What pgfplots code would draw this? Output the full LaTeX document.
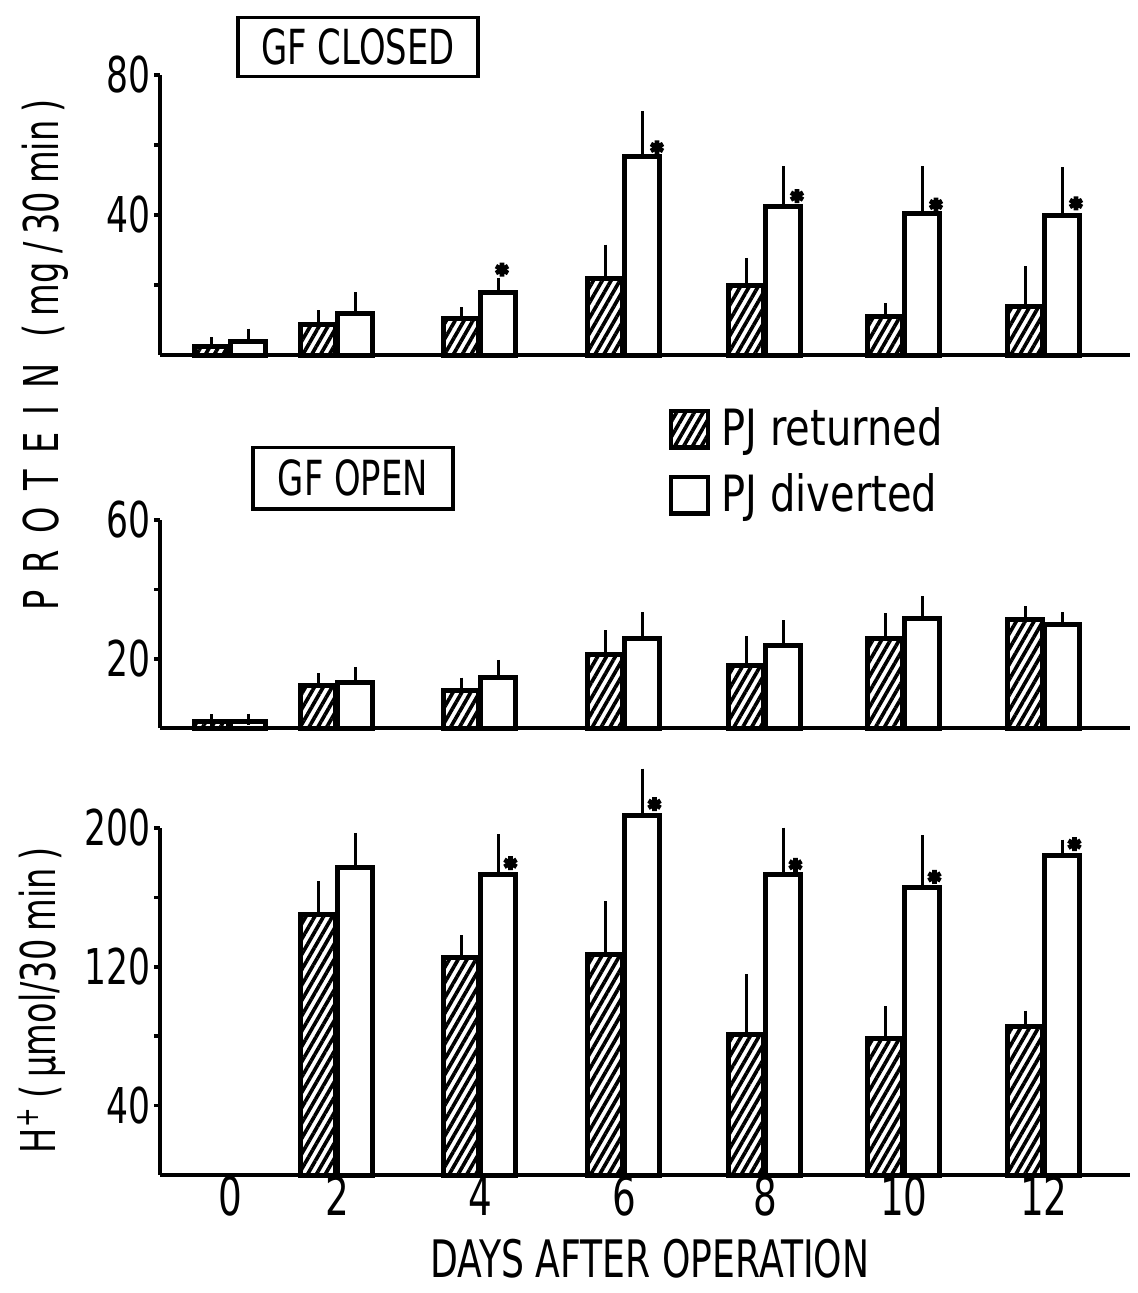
\documentclass[border=0pt]{standalone}
\usepackage{fontspec}
\setmainfont{DejaVu Sans}[FakeStretch=0.7]
\newfontfamily\legfont{DejaVu Sans}[FakeStretch=0.8]
\usepackage{pgfplots}
\pgfplotsset{compat=1.18}
\usetikzlibrary{patterns.meta}

\pgfplotsset{
  panel/.style={
    scale only axis, width=291pt,
    xmin=1.6, xmax=11.3, ymin=0,
    axis x line=bottom, axis y line=left,
    axis line style={line width=1.3pt,-},
    clip=false,
    tick align=outside,
    major tick length=1.8pt,
    every tick/.style={line width=1.1pt, black},
    x tick style={draw=none},
    yticklabel style={inner sep=0.8pt, font=\fontsize{14.8}{16}\selectfont},
    /pgf/number format/assume math mode=true,
  },
  errs/.style={
    error bars/y dir=plus, error bars/y explicit,
    error bars/error bar style={line width=0.9pt, black},
    error bars/error mark=-,
    error bars/error mark options={line width=0.9pt, mark size=1.7pt, black}},
  ret/.style={ybar, bar width=0.35, bar shift=0pt, draw=black, line width=1.5pt,
    fill=white, postaction={pattern={Lines[angle=60,distance=2.3pt,line width=1.1pt]}},
    errs},
  div/.style={ybar, bar width=0.35, bar shift=0pt, draw=black, line width=1.5pt,
    fill=white, errs},
  star/.style={only marks, mark=asterisk, mark size=2.1pt, line width=1.4pt, black},
}

\begin{document}
\begin{tikzpicture}
\useasboundingbox (0,0) rectangle (341.1pt,-387.9pt);

% ---- GF closed
\begin{axis}[panel, at={(48pt,-106.5pt)}, anchor=south west, height=84pt,
  ymax=80, xtick=\empty, ytick={20,40,60,80}, yticklabels={,40,,80}]
\addplot[ret] coordinates {
  (2.115,2.4) +- (0,1.1) (3.185,8.8) +- (0,2.3) (4.615,10.5) +- (0,1.5)
  (6.055,22.0) +- (0,7.9) (7.465,20.0) +- (0,6.1) (8.855,11.1) +- (0,2.0)
  (10.255,14.0) +- (0,9.7)};
\addplot[div] coordinates {
  (2.485,3.9) +- (0,2.0) (3.555,11.8) +- (0,4.5) (4.985,17.8) +- (0,2.7)
  (6.425,56.6) +- (0,11.4) (7.835,42.3) +- (0,10.0) (9.225,40.3) +- (0,12.0)
  (10.625,39.9) +- (0,12.1)};
\addplot[star] coordinates {(5.02,24.4) (6.57,59.3) (7.97,45.4) (9.36,43.0) (10.76,43.3)};
\end{axis}

% ---- GF open
\begin{axis}[panel, at={(48pt,-218.4pt)}, anchor=south west, height=62.4pt,
  ymax=60, xtick=\empty, ytick={20,40,60}, yticklabels={20,,60},
  legend style={at={(axis description cs:0.524,1.56)}, anchor=north west,
    draw=none, fill=none, inner sep=0pt, row sep=5pt,
    font=\legfont\fontsize{15}{17}\selectfont,
    nodes={inner sep=1pt}},
  legend cell align=left,
  legend image code/.code={\draw[#1, line width=1.3pt] (0pt,-5.5pt) rectangle (11pt,5.5pt);}]
\addplot[ret] coordinates {
  (2.115,1.8) +- (0,0.5) (3.185,12.3) +- (0,1.8) (4.615,10.8) +- (0,2.1)
  (6.055,21.1) +- (0,5.4) (7.465,18.1) +- (0,6.7) (8.855,25.9) +- (0,5.6)
  (10.255,31.2) +- (0,2.3)};
\addlegendentry{\,PJ returned}
\addplot[div] coordinates {
  (2.485,2.0) +- (0,0.5) (3.555,13.0) +- (0,3.0) (4.985,14.6) +- (0,3.4)
  (6.425,25.8) +- (0,6.0) (7.835,23.9) +- (0,5.6) (9.225,31.6) +- (0,4.7)
  (10.625,30.0) +- (0,1.7)};
\addlegendentry{\,PJ diverted}
\end{axis}

% ---- H+
\begin{axis}[panel, at={(48pt,-352.5pt)}, anchor=south west, height=104.1pt,
  ymax=200, ytick={40,80,120,160,200}, yticklabels={40,,120,,200},
  xtick={2.30,3.37,4.80,6.24,7.65,9.04,10.44},
  xticklabels={0,2,4,6,8,10,12},
  xticklabel style={inner sep=0pt, yshift=1.6pt, font=\fontsize{16}{17}\selectfont},
  xlabel={DAYS AFTER OPERATION},
  xlabel style={at={(axis description cs:0.505,-0.242)}, anchor=center,
    inner sep=0pt, font=\fontsize{15.5}{17}\selectfont}]
\addplot[ret] coordinates {
  (3.185,150) +- (0,16) (4.615,125.5) +- (0,9.5)
  (6.055,127) +- (0,27.5) (7.465,81) +- (0,31.5) (8.855,78.5) +- (0,15.5)
  (10.255,85.5) +- (0,6)};
\addplot[div] coordinates {
  (3.555,177.5) +- (0,16.5) (4.985,173) +- (0,20)
  (6.425,207) +- (0,24) (7.835,173) +- (0,24) (9.225,166) +- (0,26.5)
  (10.625,184) +- (0,6)};
\addplot[star] coordinates {(5.105,179.7) (6.545,213.7) (7.955,178.8) (9.345,171.8) (10.745,190.7)};
\end{axis}

% labels and panel titles
\node[rotate=90, font=\fontsize{14.4}{16}\selectfont] at (13.5pt,-106.5pt)
  {P\hspace{5pt}R\hspace{5pt}O\hspace{5pt}T\hspace{5pt}E\hspace{5pt}I\hspace{5pt}N\hspace{8pt}(\,mg\,/\,30\,min\,)};
\node[rotate=90, font=\fontsize{14.4}{16}\selectfont] at (12.5pt,-300pt)
  {H\textsuperscript{+}\,(\,μmol/30\,min\,)};
\node[draw, line width=1pt, minimum width=72pt, minimum height=16.5pt,
  font=\fontsize{14.5}{16}\selectfont] at (107.4pt,-14.1pt) {GF CLOSED};
\node[draw, line width=1pt, minimum width=60pt, minimum height=18.5pt,
  font=\fontsize{14.5}{16}\selectfont] at (105.9pt,-143.4pt) {GF OPEN};
\end{tikzpicture}
\end{document}
